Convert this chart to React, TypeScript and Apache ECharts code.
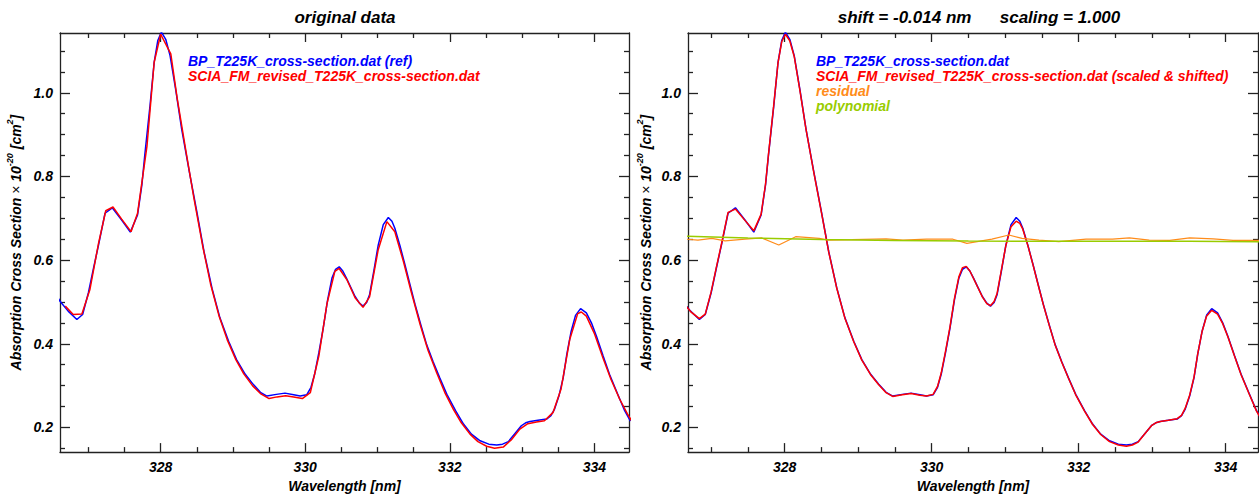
import React, { useEffect, useRef } from 'react';
import * as echarts from 'echarts';

const FONT = '"Liberation Sans", Arial, Helvetica, sans-serif';

// axis ranges
const LEFT_X_RANGE = [326.607, 334.48];
const RIGHT_X_RANGE = [326.685, 334.44];
const Y_RANGE = [0.141, 1.143];

// tick labels / positions
const X_MAJOR = [328, 330, 332, 334];
const X_MINOR = [327, 327.5, 328.5, 329, 329.5, 330.5, 331, 331.5, 332.5, 333, 333.5];
const Y_MAJOR = [0.2, 0.4, 0.6, 0.8, 1.0];
const Y_MINOR = [0.15, 0.25, 0.3, 0.35, 0.45, 0.5, 0.55, 0.65, 0.7, 0.75, 0.85, 0.9, 0.95, 1.05, 1.1];

// BP_T225K_cross-section.dat (ref): [wavelength nm, cross-section]
const REF = [
  [326.58, 0.510], [326.61, 0.501], [326.72, 0.478], [326.84, 0.458], [326.92, 0.470], [327.00, 0.522],
  [327.07, 0.580], [327.14, 0.636], [327.23, 0.712], [327.33, 0.725], [327.46, 0.696], [327.58, 0.667],
  [327.68, 0.708], [327.74, 0.780], [327.78, 0.851], [327.85, 0.965], [327.91, 1.073], [327.96, 1.125],
  [328.01, 1.145], [328.07, 1.128], [328.13, 1.089], [328.21, 1.005], [328.29, 0.914], [328.40, 0.808],
  [328.50, 0.716], [328.60, 0.620], [328.71, 0.533], [328.82, 0.462], [328.94, 0.406], [329.05, 0.362],
  [329.17, 0.327], [329.28, 0.303], [329.38, 0.284], [329.47, 0.275], [329.60, 0.279], [329.72, 0.282],
  [329.84, 0.278], [329.93, 0.275], [330.02, 0.278], [330.08, 0.296], [330.13, 0.327], [330.19, 0.380],
  [330.25, 0.438], [330.31, 0.505], [330.37, 0.557], [330.42, 0.578], [330.47, 0.584], [330.52, 0.574],
  [330.57, 0.557], [330.63, 0.535], [330.69, 0.513], [330.75, 0.497], [330.80, 0.490], [330.85, 0.499],
  [330.89, 0.517], [330.95, 0.575], [331.01, 0.636], [331.08, 0.685], [331.15, 0.702], [331.20, 0.693],
  [331.24, 0.676], [331.31, 0.635], [331.38, 0.589], [331.45, 0.541], [331.52, 0.494], [331.60, 0.445],
  [331.68, 0.398], [331.77, 0.357], [331.86, 0.319], [331.96, 0.279], [332.08, 0.240], [332.19, 0.208],
  [332.30, 0.184], [332.42, 0.168], [332.54, 0.160], [332.65, 0.158], [332.73, 0.160], [332.81, 0.166],
  [332.90, 0.185], [332.99, 0.204], [333.05, 0.211], [333.11, 0.214], [333.22, 0.217], [333.34, 0.220],
  [333.40, 0.228], [333.45, 0.244], [333.51, 0.275], [333.57, 0.319], [333.62, 0.375], [333.68, 0.430],
  [333.74, 0.468], [333.81, 0.484], [333.89, 0.474], [333.96, 0.450], [334.03, 0.418], [334.12, 0.372],
  [334.21, 0.327], [334.32, 0.281], [334.42, 0.240], [334.50, 0.215],
];

// SCIA_FM_revised_T225K_cross-section.dat (original)
const SCIA = [
  [326.68, 0.490], [326.79, 0.470], [326.91, 0.471], [327.02, 0.529], [327.14, 0.640], [327.24, 0.718],
  [327.34, 0.727], [327.46, 0.698], [327.59, 0.668], [327.68, 0.712], [327.81, 0.872], [327.91, 1.073],
  [328.00, 1.140], [328.14, 1.093], [328.23, 0.985], [328.35, 0.860], [328.46, 0.748], [328.58, 0.635],
  [328.69, 0.543], [328.81, 0.465], [328.92, 0.410], [329.04, 0.362], [329.15, 0.328], [329.27, 0.300],
  [329.38, 0.281], [329.50, 0.269], [329.61, 0.273], [329.73, 0.276], [329.84, 0.273], [329.96, 0.269],
  [330.07, 0.283], [330.19, 0.372], [330.30, 0.495], [330.41, 0.573], [330.47, 0.580], [330.58, 0.552],
  [330.69, 0.510], [330.80, 0.487], [330.89, 0.512], [331.01, 0.625], [331.13, 0.692], [331.24, 0.668],
  [331.36, 0.596], [331.47, 0.522], [331.59, 0.446], [331.70, 0.384], [331.82, 0.330], [331.93, 0.284],
  [332.05, 0.243], [332.16, 0.211], [332.28, 0.184], [332.39, 0.166], [332.51, 0.155], [332.62, 0.150],
  [332.74, 0.153], [332.85, 0.170], [332.97, 0.196], [333.08, 0.209], [333.20, 0.213], [333.31, 0.216],
  [333.43, 0.236], [333.54, 0.292], [333.66, 0.410], [333.77, 0.472], [333.82, 0.476], [333.89, 0.466],
  [334.00, 0.425], [334.12, 0.366], [334.23, 0.315], [334.35, 0.268], [334.46, 0.232], [334.52, 0.215],
];

// SCIA (scaled & shifted)
const SCIA_SHIFTED = [
  [326.66, 0.490], [326.72, 0.477], [326.84, 0.460], [326.92, 0.471], [327.00, 0.524], [327.07, 0.582],
  [327.14, 0.638], [327.23, 0.714], [327.33, 0.722], [327.46, 0.695], [327.58, 0.670], [327.68, 0.710],
  [327.74, 0.782], [327.78, 0.853], [327.85, 0.968], [327.91, 1.072], [327.96, 1.122], [328.01, 1.140],
  [328.07, 1.124], [328.13, 1.087], [328.21, 1.003], [328.29, 0.913], [328.40, 0.806], [328.50, 0.714],
  [328.60, 0.619], [328.71, 0.532], [328.82, 0.461], [328.94, 0.405], [329.05, 0.361], [329.17, 0.326],
  [329.28, 0.302], [329.38, 0.283], [329.47, 0.274], [329.60, 0.278], [329.72, 0.281], [329.84, 0.277],
  [329.93, 0.275], [330.02, 0.279], [330.08, 0.298], [330.13, 0.330], [330.19, 0.383], [330.25, 0.441],
  [330.31, 0.508], [330.37, 0.560], [330.42, 0.582], [330.47, 0.585], [330.52, 0.574], [330.57, 0.556],
  [330.63, 0.534], [330.69, 0.512], [330.75, 0.496], [330.80, 0.491], [330.85, 0.501], [330.89, 0.520],
  [330.95, 0.578], [331.01, 0.635], [331.08, 0.680], [331.15, 0.693], [331.20, 0.688], [331.24, 0.674],
  [331.31, 0.634], [331.38, 0.588], [331.45, 0.540], [331.52, 0.493], [331.60, 0.444], [331.68, 0.397],
  [331.77, 0.356], [331.86, 0.318], [331.96, 0.278], [332.08, 0.239], [332.19, 0.207], [332.30, 0.183],
  [332.42, 0.166], [332.54, 0.158], [332.65, 0.155], [332.73, 0.158], [332.81, 0.165], [332.90, 0.185],
  [332.99, 0.204], [333.05, 0.211], [333.11, 0.214], [333.22, 0.217], [333.34, 0.221], [333.40, 0.229],
  [333.45, 0.246], [333.51, 0.277], [333.57, 0.321], [333.62, 0.376], [333.68, 0.430], [333.74, 0.466],
  [333.81, 0.480], [333.89, 0.471], [333.96, 0.448], [334.03, 0.417], [334.12, 0.371], [334.21, 0.326],
  [334.32, 0.280], [334.42, 0.239], [334.50, 0.215],
];

// residual (offset onto plot)
const RESIDUAL = [
  [326.66, 0.650], [326.82, 0.648], [327.01, 0.652], [327.19, 0.646], [327.46, 0.650], [327.69, 0.653],
  [327.92, 0.636], [328.15, 0.656], [328.47, 0.652], [328.60, 0.648], [328.92, 0.649], [329.38, 0.651],
  [329.61, 0.648], [329.93, 0.650], [330.29, 0.650], [330.48, 0.640], [330.82, 0.650], [331.05, 0.660],
  [331.23, 0.652], [331.46, 0.648], [331.73, 0.644], [332.10, 0.650], [332.46, 0.650], [332.69, 0.653],
  [332.96, 0.648], [333.24, 0.647], [333.51, 0.653], [333.83, 0.651], [334.10, 0.647], [334.49, 0.647],
];

// polynomial
const POLYNOMIAL = [
  [326.66, 0.657], [327.50, 0.653], [328.50, 0.649], [329.50, 0.647], [330.50, 0.6455],
  [331.50, 0.645], [332.50, 0.645], [333.50, 0.645], [334.49, 0.644],
];

const AXIS_COLOR = '#222';
const labelStyle = { fontFamily: FONT, fontSize: 14, fontWeight: 'bold', fontStyle: 'italic', color: '#000' };

function makeX(grid: number, range: number[]) {
  const base = {
    type: 'value', gridIndex: grid, min: range[0], max: range[1], splitLine: { show: false },
    axisLine: { show: true, onZero: false, lineStyle: { color: AXIS_COLOR, width: 1.3 } },
  };
  return [
    {
      ...base, position: 'bottom',
      axisTick: { show: true, inside: true, length: 9, customValues: X_MAJOR, lineStyle: { color: AXIS_COLOR, width: 1.3 } },
      axisLabel: { show: true, customValues: X_MAJOR, margin: 8, formatter: (v: number) => String(Math.round(v)), ...labelStyle },
      name: 'Wavelength [nm]', nameLocation: 'middle', nameGap: 25, nameTextStyle: { ...labelStyle },
    },
    {
      ...base, position: 'bottom', axisLine: { show: false, onZero: false },
      axisTick: { show: true, inside: true, length: 5, customValues: X_MINOR, lineStyle: { color: AXIS_COLOR, width: 1.3 } },
      axisLabel: { show: false },
    },
    {
      ...base, position: 'top',
      axisTick: { show: true, inside: true, length: 9, customValues: X_MAJOR, lineStyle: { color: AXIS_COLOR, width: 1.3 } },
      axisLabel: { show: false },
    },
    {
      ...base, position: 'top', axisLine: { show: false, onZero: false },
      axisTick: { show: true, inside: true, length: 5, customValues: X_MINOR, lineStyle: { color: AXIS_COLOR, width: 1.3 } },
      axisLabel: { show: false },
    },
  ];
}

function makeY(grid: number, nameGap: number) {
  const base = {
    type: 'value', gridIndex: grid, min: Y_RANGE[0], max: Y_RANGE[1], splitLine: { show: false },
    axisLine: { show: true, onZero: false, lineStyle: { color: AXIS_COLOR, width: 1.3 } },
  };
  return [
    {
      ...base, position: 'left',
      axisTick: { show: true, inside: true, length: 10, customValues: Y_MAJOR, lineStyle: { color: AXIS_COLOR, width: 1.3 } },
      axisLabel: { show: true, customValues: Y_MAJOR, margin: 7, formatter: (v: number) => v.toFixed(1), ...labelStyle },
      name: '{t|Absorption Cross Section }{x|×}{t| 10}{s|-20}{t| [cm}{s|2}{t|]}',
      nameLocation: 'middle', nameGap, nameRotate: 90,
      nameTextStyle: {
        rich: {
          t: { ...labelStyle, verticalAlign: 'bottom', lineHeight: 18 },
          x: { fontFamily: FONT, fontSize: 14, color: '#000', verticalAlign: 'bottom', lineHeight: 18 },
          s: { fontFamily: FONT, fontSize: 9, fontWeight: 'bold', fontStyle: 'italic', color: '#000', verticalAlign: 'top', lineHeight: 18 },
        },
      },
    },
    {
      ...base, position: 'left', axisLine: { show: false, onZero: false },
      axisTick: { show: true, inside: true, length: 5, customValues: Y_MINOR, lineStyle: { color: AXIS_COLOR, width: 1.3 } },
      axisLabel: { show: false },
    },
    {
      ...base, position: 'right',
      axisTick: { show: true, inside: true, length: 10, customValues: Y_MAJOR, lineStyle: { color: AXIS_COLOR, width: 1.3 } },
      axisLabel: { show: false },
    },
    {
      ...base, position: 'right', axisLine: { show: false, onZero: false },
      axisTick: { show: true, inside: true, length: 5, customValues: Y_MINOR, lineStyle: { color: AXIS_COLOR, width: 1.3 } },
      axisLabel: { show: false },
    },
  ];
}

function line(name: string, data: number[][], color: string, axis: number, width = 1.5) {
  return {
    type: 'line', name, data, xAxisIndex: axis, yAxisIndex: axis, showSymbol: false, symbol: 'none',
    lineStyle: { color, width }, itemStyle: { color }, clip: true, silent: true,
  };
}

function text(x: number, y: number, t: string, color: string, size = 14, align = 'left') {
  return {
    type: 'text', x, y, silent: true,
    style: { text: t, fill: color, font: `italic bold ${size}px ${FONT}`, align, verticalAlign: 'middle' },
  };
}

export default function App() {
  const ref = useRef<HTMLDivElement>(null);
  useEffect(() => {
    if (!ref.current) return;
    const chart = echarts.init(ref.current, null, { renderer: 'svg' });
    chart.setOption({
      animation: false,
      backgroundColor: '#fff',
      grid: [
        { left: 60, top: 33, width: 569, height: 421 },
        { left: 688, top: 33, width: 570, height: 421 },
      ],
      xAxis: [...makeX(0, LEFT_X_RANGE), ...makeX(1, RIGHT_X_RANGE)],
      yAxis: [...makeY(0, 37), ...makeY(1, 35)],
      series: [
        line('BP_T225K_cross-section.dat (ref)', REF, '#0000ff', 0),
        line('SCIA_FM_revised_T225K_cross-section.dat', SCIA, '#ff0000', 0),
        line('BP_T225K_cross-section.dat', REF, '#0000ff', 4),
        line('SCIA_FM_revised_T225K_cross-section.dat (scaled & shifted)', SCIA_SHIFTED, '#ff0000', 4),
        line('residual', RESIDUAL, '#ff8c1a', 4, 1.2),
        line('polynomial', POLYNOMIAL, '#99cc00', 4, 1.5),
      ],
      graphic: [
        text(345, 17, 'original data', '#000', 17, 'center'),
        text(979, 17, 'shift = -0.014 nm      scaling = 1.000', '#000', 17, 'center'),
        text(188, 61, 'BP_T225K_cross-section.dat (ref)', '#0000ff'),
        text(188, 76, 'SCIA_FM_revised_T225K_cross-section.dat', '#ff0000'),
        text(816, 61, 'BP_T225K_cross-section.dat', '#0000ff'),
        text(816, 76, 'SCIA_FM_revised_T225K_cross-section.dat (scaled & shifted)', '#ff0000'),
        text(816, 91, 'residual', '#ff8c1a'),
        text(816, 106, 'polynomial', '#99cc00'),
      ],
    });
    return () => chart.dispose();
  }, []);
  return <div ref={ref} style={{ position: 'absolute', left: 0, top: 0, width: 1259, height: 498 }} />;
}
